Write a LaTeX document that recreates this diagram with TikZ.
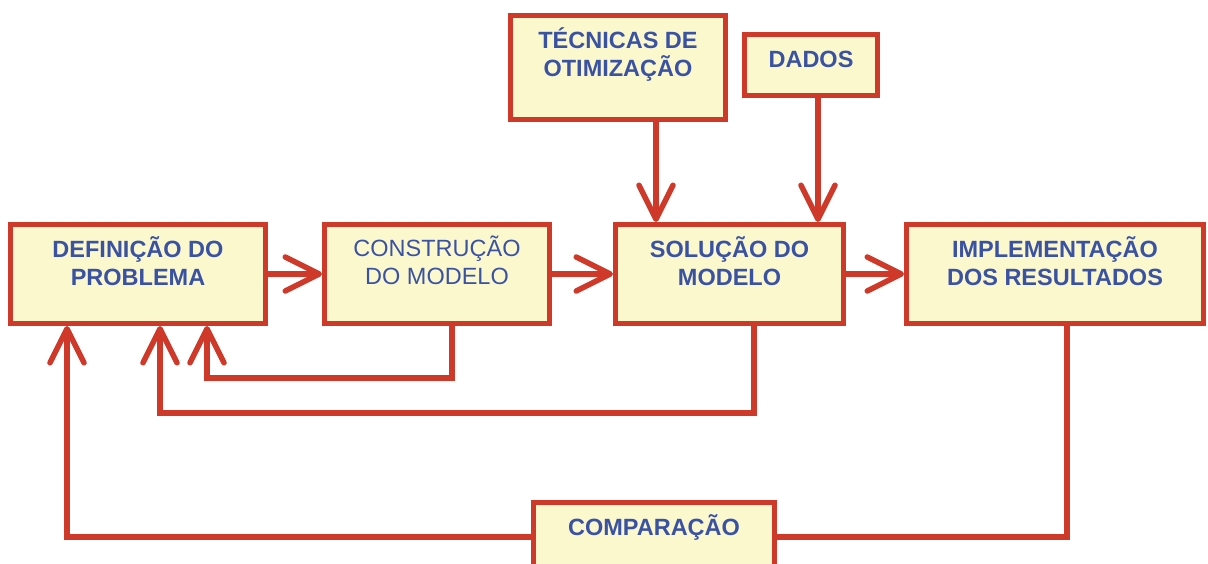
\documentclass[tikz,border=0pt]{standalone}
\usepackage{fontspec}
\setmainfont{Liberation Sans}
\usepackage{tikz}
\usetikzlibrary{arrows.meta, positioning, calc}
\definecolor{boxred}{RGB}{206, 57, 41}
\definecolor{boxfill}{RGB}{252, 248, 206}
\definecolor{textblue}{RGB}{58, 82, 164}
\tikzset{
    block/.style={rectangle, draw=boxred, fill=boxfill, line width=5pt, inner sep=0pt},
    blocktext/.style={text=textblue, font=\bfseries\fontsize{23.5}{28}\selectfont, align=center, inner sep=0pt},
    plaintext/.style={blocktext, font=\fontsize{23.5}{28}\selectfont},
    arrow/.style={line width=5.5pt, boxred, -{Straight Barb[length=34pt, width=34pt, round]}},
    link/.style={line width=5.5pt, boxred}
}
\begin{document}
\begin{tikzpicture}[x=1pt, y=-1pt, node distance=14pt]
        \useasboundingbox (0,0) rectangle (1208,563);

        % Main row of blocks
        \node[block, minimum width=255pt, minimum height=99pt] (def) at (138, 274) {};
        \node[block, minimum width=225pt, minimum height=99pt] (cons) at (437, 274) {};
        \node[block, minimum width=228pt, minimum height=99pt] (sol) at (729.5, 274) {};
        \node[block, minimum width=297pt, minimum height=99pt] (impl) at (1055, 274) {};

        % Inputs and comparison
        \node[block, minimum width=215pt, minimum height=104pt] (tec) at (618, 67.5) {};
        \node[block, minimum width=133pt, minimum height=61pt] (dados) at (811, 65) {};
        \node[block, minimum width=241pt, minimum height=69pt] (comp) at (654, 537) {};

        % Texts
        \node[blocktext, below=of def.north] (deftext) {DEFINIÇÃO DO\\PROBLEMA};
        \node[plaintext, below=of cons.north] (constext) {CONSTRUÇÃO\\DO MODELO};
        \node[blocktext, below=of sol.north] (soltext) {SOLUÇÃO DO\\MODELO};
        \node[blocktext, below=of impl.north] (impltext) {IMPLEMENTAÇÃO\\DOS RESULTADOS};
        \node[blocktext, below=of tec.north] (tectext) {TÉCNICAS DE\\OTIMIZAÇÃO};
        \node[blocktext, below=of dados.north] (dadostext) {\vphantom{Ã}DADOS};
        \node[blocktext, below=of comp.north] (comptext) {COMPARAÇÃO};

        % Forward arrows
        \draw[arrow] (def.east) -- (cons.west);
        \draw[arrow] (cons.east) -- (sol.west);
        \draw[arrow] (sol.east) -- (impl.west);
        \draw[arrow] ([xshift=38pt]tec.south) -- ([xshift=38pt]tec.south |- sol.north);
        \draw[arrow] ([xshift=7pt]dados.south) -- ([xshift=7pt]dados.south |- sol.north);

        % Feedback loops
        \coordinate (back1) at (207, 378);
        \coordinate (back2) at (160, 413);
        \draw[arrow] ([xshift=15pt]cons.south) |- (back1) -- (back1 |- def.south);
        \draw[arrow] ([xshift=24.5pt]sol.south) |- (back2) -- (back2 |- def.south);
        \draw[link] ([xshift=12pt]impl.south) |- (comp.east);
        \draw[arrow] (comp.west) -| ([xshift=-71pt]def.south);
    \end{tikzpicture}
\end{document}
